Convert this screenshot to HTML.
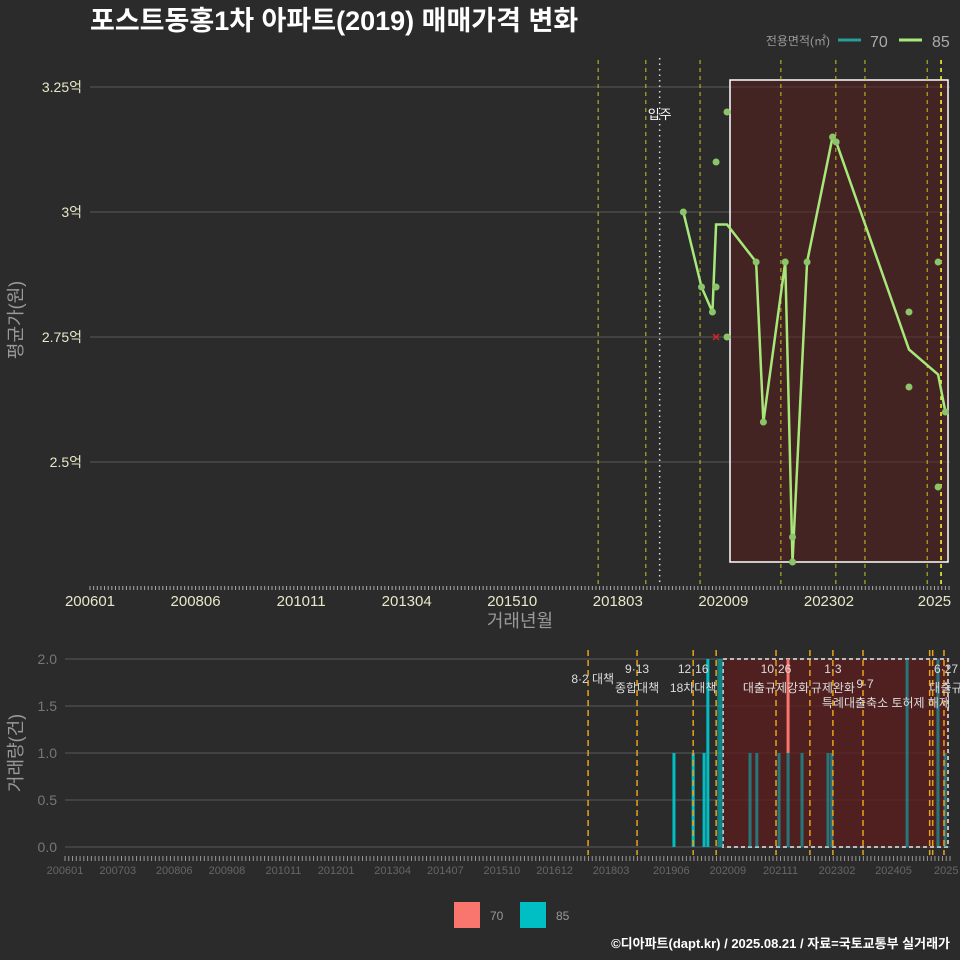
<!DOCTYPE html>
<html><head><meta charset="utf-8"><style>
html,body{margin:0;padding:0;background:#2b2b2b;}
svg{display:block;font-family:"Liberation Sans","Noto Sans CJK KR",sans-serif;}
</style></head><body>
<svg id="c" width="960" height="960" viewBox="0 0 960 960" xmlns="http://www.w3.org/2000/svg">
<rect x="0" y="0" width="960" height="960" fill="#2b2b2b"/>
<text x="90" y="30" fill="#ffffff" font-size="27" font-weight="bold">포스트동홍1차 아파트(2019) 매매가격 변화</text>
<g>
<text x="830" y="45" fill="#999" font-size="12" text-anchor="end">전용면적(㎡)</text>
<line x1="838" y1="40" x2="861" y2="40" stroke="#2a9d9a" stroke-width="3"/>
<text x="870" y="47" fill="#aaa" font-size="16">70</text>
<line x1="899" y1="40" x2="922" y2="40" stroke="#a8e87a" stroke-width="3"/>
<text x="932" y="47" fill="#aaa" font-size="16">85</text>
</g>
<g id="topPanel"></g>
<g id="botPanel"></g>
<g>
<rect x="454" y="902" width="26" height="26" fill="#f8766d"/>
<text x="490" y="920" fill="#999" font-size="12">70</text>
<rect x="520" y="902" width="26" height="26" fill="#00bfc4"/>
<text x="556" y="920" fill="#999" font-size="12">85</text>
</g>
<text x="950" y="948" fill="#fff" font-size="13" font-weight="bold" text-anchor="end">©디아파트(dapt.kr) / 2025.08.21 / 자료=국토교통부 실거래가</text>
</svg>
<script>
// months counted from 2006-01 (=0)
const topTickLabels = ["200601","200806","201011","201304","201510","201803","202009","202302","2025"];
const topTickMonths = [0,29,58,87,116,145,174,203,232];
const botTickLabels = ["200601","200703","200806","200908","201011","201201","201304","201407","201510","201612","201803","201906","202009","202111","202302","202405","2025"];
const botTickMonths = [0,14,29,43,58,72,87,101,116,130,145,161,176,190,205,220,234];
const priceTicks = [2.5,2.75,3.0,3.25];
const priceTickLabels = ["2.5억","2.75억","3억","3.25억"];
const pointMonths = [163,168,171,172,172,175,175,183,185,191,193,193,197,204,205,225,225,233,233,235];
const pointPrices = [3.0,2.85,2.80,2.85,3.10,3.20,2.75,2.90,2.58,2.90,2.35,2.30,2.90,3.15,3.14,2.80,2.65,2.90,2.45,2.60];
const lineMonths = [163,168,171,172,175,175,183,185,191,193,197,204,205,225,233,235];
const linePrices = [3.0,2.85,2.80,2.975,2.975,2.975,2.90,2.58,2.90,2.30,2.90,3.15,3.14,2.725,2.675,2.60];
const cancelMonths = [172];
const cancelPrices = [2.75];
const topPolicyMonths = [139.6,152.7,167.6,189.8,204.9,212.9,230,233.8];
const moveInMonth = 156.5;
const botPolicyMonths = [138.9,151.9,166.8,172.9,188.8,197.8,203.9,211.9,229.6,230.4,233.4];
const volMonths85 = [161.7,166.8,169.7,170.7,173.6,174.3,181.9,183.7,189.6,192,195.7,202.6,203.6,223.6,231.8,233.7];
const volCounts85 = [1,1,1,2,2,2,1,1,1,1,1,1,1,2,2,1];
const volMonths70 = [192];
const volCounts70 = [1];
const volBase70 = [1];
const volTicks = [0,0.5,1.0,1.5,2.0];
const volTickLabels = ["0.0","0.5","1.0","1.5","2.0"];
const policyLabels = [
  {m:138.9,l1:"",l2:"8·2 대책",anchor:"end",dx:26},
  {m:151.9,l1:"9·13",l2:"종합대책",anchor:"middle",dx:0},
  {m:166.8,l1:"12·16",l2:"18차대책",anchor:"middle",dx:0},
  {m:188.8,l1:"10·26",l2:"대출규제강화",anchor:"middle",dx:0},
  {m:203.9,l1:"1·3",l2:"규제완화",anchor:"middle",dx:0},
  {m:233.4,l1:"6·27",l2:"대출규",anchor:"middle",dx:2}
];
const NS="http://www.w3.org/2000/svg";
function mk(p,t,a){const e=document.createElementNS(NS,t);for(const k in a)e.setAttribute(k,a[k]);p.appendChild(e);return e;}
const xT=m=>90+m*3.64, yT=v=>212-(v-3.0)*500;
const xB=m=>65+m*3.766, yB=v=>847-v*94;
const topG=document.getElementById('topPanel'), botG=document.getElementById('botPanel');
priceTicks.forEach((v,i)=>{
  let g=mk(topG,'line',{x1:90,x2:950,y1:yT(v),y2:yT(v),stroke:'#5a5a5a','stroke-width':1});
  
  
  let t=mk(topG,'text',{x:82,y:yT(v)+5,fill:'#e8e8c8','font-size':14,'text-anchor':'end'});
  t.textContent=priceTickLabels[i];
  
  
});
let r=mk(topG,'rect',{x:730,y:80,width:218,height:482,fill:'#5a1e1e','fill-opacity':0.55,stroke:'#fff','stroke-width':1.5});


topPolicyMonths.forEach((m,i)=>{
  let l=mk(topG,'line',{x1:xT(m),x2:xT(m),y1:60,y2:585,stroke:i==7?'#ffff33':'#c8c820','stroke-width':i==7?1.5:1,'stroke-dasharray':'4,4'});
  
  
});
let mv=mk(topG,'line',{x1:xT(moveInMonth),x2:xT(moveInMonth),y1:58,y2:585,stroke:'#ddd','stroke-width':1.5,'stroke-dasharray':'1.5,4'});


let mt=mk(topG,'text',{x:xT(moveInMonth),y:119,fill:'#fff','font-size':13,'text-anchor':'middle'});mt.textContent='입주';


for(let m=0;m<=236;m++){let t=mk(topG,'line',{x1:xT(m),x2:xT(m),y1:586,y2:590,stroke:'#aaa','stroke-width':1});

}
topTickLabels.forEach((s,i)=>{let t=mk(topG,'text',{x:xT(topTickMonths[i]),y:606,fill:'#e8e8c8','font-size':15,'text-anchor':'middle'});t.textContent=s;

});
let xt=mk(topG,'text',{x:520,y:627,fill:'#999','font-size':18,'text-anchor':'middle'});xt.textContent='거래년월';


let yt=mk(topG,'text',{x:0,y:0,fill:'#999','font-size':18,'text-anchor':'middle',transform:'translate(22,320) rotate(-90)'});yt.textContent='평균가(원)';


let pl=mk(topG,'polyline',{points:lineMonths.map((m,i)=>xT(m)+','+yT(linePrices[i])).join(' '),fill:'none',stroke:'#a8e87a','stroke-width':2.5});


pointMonths.forEach((m,i)=>{let c=mk(topG,'circle',{cx:xT(m),cy:yT(pointPrices[i]),r:3.5,fill:'#8cc46a'});

});
cancelMonths.forEach((m,i)=>{let x=xT(m),y=yT(cancelPrices[i]);let p=mk(topG,'path',{d:`M${x-3},${y-3}L${x+3},${y+3}M${x+3},${y-3}L${x-3},${y+3}`,stroke:'#e02020','stroke-width':1.5});

});

volTicks.forEach((v,i)=>{
  let g=mk(botG,'line',{x1:65,x2:950,y1:yB(v),y2:yB(v),stroke:'#5a5a5a','stroke-width':1});
  
  
  let t=mk(botG,'text',{x:57,y:yB(v)+5,fill:'#777','font-size':14,'text-anchor':'end'});t.textContent=volTickLabels[i];
  
  
});
let r2=mk(botG,'rect',{x:723,y:659,width:225,height:188,fill:'#5a1e1e','fill-opacity':0.8,stroke:'#bbb','stroke-width':2,'stroke-dasharray':'4,3'});


volMonths85.forEach((m,i)=>{let b=mk(botG,'rect',{x:xB(m)-1.5,y:yB(volCounts85[i]),width:3,height:yB(0)-yB(volCounts85[i]),fill:'#00bfc4','fill-opacity':m>173?0.55:1});

});
volMonths70.forEach((m,i)=>{let b=mk(botG,'rect',{x:xB(m)-1.5,y:yB(volBase70[i]+volCounts70[i]),width:3,height:yB(volBase70[i])-yB(volBase70[i]+volCounts70[i]),fill:'#f8766d'});

});
botPolicyMonths.forEach(m=>{let l=mk(botG,'line',{x1:xB(m),x2:xB(m),y1:650,y2:855,stroke:'#e8a317','stroke-width':1.5,'stroke-dasharray':'6,4'});

});
policyLabels.forEach(p=>{
  const x=Math.min(xB(p.m)+p.dx,950);
  if(p.l1){let t=mk(botG,'text',{x:x,y:673,fill:'#ddd','font-size':12,'text-anchor':p.anchor});t.textContent=p.l1;
  
  }
  let t2=mk(botG,'text',{x:x,y:p.l1?692:683,fill:'#ddd','font-size':12,'text-anchor':p.anchor});t2.textContent=p.l2;
  
  
});
let t97=mk(botG,'text',{x:xB(211.9)+2,y:688,fill:'#ddd','font-size':12,'text-anchor':'middle'});t97.textContent='9·7';


let tsp=mk(botG,'text',{x:950,y:707,fill:'#ddd','font-size':12,'text-anchor':'end'});tsp.textContent='특례대출축소 토허제 해제';


for(let m=0;m<=235;m++){let t=mk(botG,'line',{x1:xB(m),x2:xB(m),y1:856,y2:861,stroke:'#999','stroke-width':1});

}
botTickLabels.forEach((s,i)=>{let t=mk(botG,'text',{x:xB(botTickMonths[i]),y:874,fill:'#666','font-size':11,'text-anchor':'middle'});t.textContent=s;

});
let yt2=mk(botG,'text',{x:0,y:0,fill:'#999','font-size':18,'text-anchor':'middle',transform:'translate(22,753) rotate(-90)'});yt2.textContent='거래량(건)';


</script>
</body></html>
